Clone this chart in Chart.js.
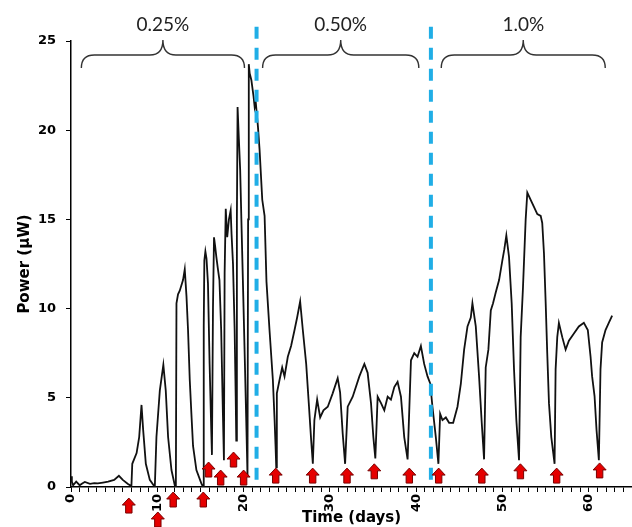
<!DOCTYPE html>
<html>
<head>
<meta charset="utf-8">
<script src="https://cdn.jsdelivr.net/npm/chart.js@4"></script>
<style>
    html, body { margin: 0; padding: 0; background: #fff; }
    #wrap { width: 632px; height: 527px; }
</style>
</head>
<body>
<div id="wrap"><canvas id="chart"></canvas></div>
<script>
// power trace (time in days, power in uW)
const days = [
    0.0, 0.1, 0.25, 0.6, 1.0, 1.3, 1.6, 2.2, 2.7, 3.1, 3.7, 4.3, 5.0, 5.55, 6.0, 6.6, 7.0,
    7.1, 7.6, 7.9, 8.17, 8.36, 8.67, 9.13, 9.71,
    9.9, 10.29, 10.7, 10.98, 11.25, 11.64, 12.02, 12.15,
    12.22, 12.4, 12.6, 12.98, 13.18, 13.38, 13.56, 13.76, 13.95, 14.14, 14.53, 15.1, 15.3,
    15.38, 15.45, 15.57, 15.7, 15.87, 16.06, 16.25, 16.33,
    16.45, 16.57, 16.7, 16.84, 17.0, 17.2, 17.4, 17.6, 17.72,
    17.8, 17.93, 18.1, 18.3, 18.5, 18.6, 18.77, 18.96, 19.08, 19.15,
    19.22, 19.3, 19.45, 19.6, 19.77, 19.96, 20.15, 20.33, 20.45,
    20.52, 20.6, 20.7, 20.9, 21.15, 21.28, 21.4, 21.66, 21.85, 22.16, 22.43, 22.65,
    23.0, 23.39, 23.59, 23.7, 23.78,
    23.85, 24.16, 24.47, 24.74, 25.12, 25.5, 25.9, 26.2, 26.55, 26.86, 27.25, 27.55, 27.83, 28.02,
    28.2, 28.52, 28.87, 29.25, 29.75, 30.32, 30.9, 31.18, 31.48, 31.76,
    32.06, 32.64, 33.41, 33.99, 34.37, 34.76, 35.03, 35.26,
    35.53, 35.92, 36.3, 36.69, 37.07, 37.46, 37.84, 38.23, 38.61, 39.0,
    39.39, 39.77, 40.15, 40.54, 40.92, 41.31, 41.62, 41.88, 42.27, 42.57,
    42.77, 43.04, 43.43, 43.81, 44.28, 44.78, 45.17, 45.55, 45.94, 46.32, 46.51, 46.9, 47.28, 47.59, 47.86,
    48.05, 48.36, 48.64, 48.9, 49.21, 49.6, 49.98, 50.2, 50.44, 50.75, 51.06, 51.33, 51.6, 51.91,
    52.1, 52.37, 52.68, 52.87, 53.26, 53.64, 54.03, 54.42, 54.6, 54.8, 55.0, 55.18, 55.38, 55.65, 56.03,
    56.15, 56.34, 56.53, 56.92, 57.31, 57.69, 58.27, 58.84, 59.42, 59.88, 60.2, 60.38, 60.66, 60.89, 61.16,
    61.35, 61.54, 61.93, 62.31, 62.7
];
const power = [
    0.6, 0.3, 0.1, 0.3, 0.1, 0.2, 0.28, 0.18, 0.22, 0.2, 0.25, 0.3, 0.4, 0.63, 0.4, 0.17, 0.05,
    1.3, 1.9, 2.8, 4.6, 3.2, 1.3, 0.4, 0.0,
    2.8, 5.4, 6.85, 5.4, 2.8, 0.95, 0.1, 0.0,
    10.3, 10.8, 11.0, 11.6, 12.2, 10.7, 8.8, 6.0, 4.1, 2.3, 0.95, 0.2, 0.0,
    9.0, 12.7, 13.2, 12.8, 11.4, 6.9, 3.2, 1.8,
    10.0, 14.0, 13.5, 12.9, 12.3, 11.6, 8.8, 4.1, 1.5,
    12.0, 15.6, 14.0, 15.0, 15.5, 14.2, 12.5, 8.8, 5.1, 2.6,
    15.0, 21.3, 19.5, 17.8, 14.4, 10.7, 6.9, 3.2, 0.6,
    15.0, 23.7, 23.2, 22.8, 21.9, 21.3, 21.6, 20.2, 18.9, 16.1, 15.2, 11.5,
    8.8, 6.0, 3.75, 2.3, 1.1,
    5.25, 6.0, 6.7, 6.2, 7.3, 7.9, 8.8, 9.5, 10.4, 8.8, 6.9, 4.7, 2.6, 1.3,
    3.75, 4.9, 3.9, 4.3, 4.5, 5.25, 6.1, 5.3, 3.0, 1.3,
    4.5, 5.06, 6.2, 6.9, 6.4, 4.7, 2.8, 1.6,
    5.06, 4.7, 4.3, 5.06, 4.9, 5.6, 5.9, 5.06, 2.8, 1.55,
    7.1, 7.5, 7.3, 7.9, 6.9, 6.2, 5.8, 4.5, 2.8, 1.3,
    4.1, 3.75, 3.9, 3.6, 3.6, 4.5, 5.8, 7.7, 9.0, 9.5, 10.3, 9.0, 6.2, 3.6, 1.55,
    6.7, 7.7, 9.9, 10.3, 10.9, 11.6, 12.7, 13.3, 14.1, 12.9, 10.3, 6.6, 3.75, 1.5,
    8.4, 11.2, 15.0, 16.5, 16.1, 15.7, 15.3, 15.2, 14.8, 13.1, 10.3, 7.5, 4.7, 2.8, 1.3,
    6.6, 8.4, 9.2, 8.4, 7.7, 8.2, 8.6, 9.0, 9.2, 8.8, 7.3, 6.2, 5.1, 3.2, 1.5,
    6.6, 8.1, 8.8, 9.2, 9.6
];

// red arrows: day and the power level of the arrow tip
const arrowDays = [6.7, 10.06, 11.84, 15.33, 15.94, 17.34, 18.83, 20.0, 23.72, 28.0, 31.98, 35.14, 39.2, 42.6, 47.6, 52.07, 56.27, 61.25];
const arrowTips = [-0.62, -1.4, -0.28, -0.28, 1.4, 0.95, 1.96, 0.95, 1.06, 1.06, 1.06, 1.3, 1.06, 1.06, 1.06, 1.3, 1.06, 1.35];

// concentration changes
const phaseLines = [21.5, 41.7];
const braceStart = [1.2, 22.2, 42.9];
const braceEnd = [20.1, 40.3, 61.9];
const braceLabels = ["0.25%", "0.50%", "1.0%"];

Chart.defaults.font.family = "'DejaVu Sans', sans-serif";
Chart.defaults.color = "#000";

const drawArrow = (ctx, cx, tipY) => {
    ctx.beginPath();
    ctx.moveTo(cx, tipY);
    ctx.lineTo(cx + 6.5, tipY + 7);
    ctx.lineTo(cx + 3.2, tipY + 7);
    ctx.lineTo(cx + 3.2, tipY + 15);
    ctx.lineTo(cx - 3.2, tipY + 15);
    ctx.lineTo(cx - 3.2, tipY + 7);
    ctx.lineTo(cx - 6.5, tipY + 7);
    ctx.closePath();
    ctx.fill();
    ctx.stroke();
};

const overlays = {
    id: "overlays",
    afterDraw(chart) {
        const { ctx, chartArea } = chart;
        const x = chart.scales.x;
        const y = chart.scales.y;
        ctx.save();

        // dashed phase boundaries
        ctx.strokeStyle = "#20aee6";
        ctx.lineWidth = 4;
        ctx.setLineDash([12, 9]);
        phaseLines.forEach((d) => {
            const px = x.getPixelForValue(d);
            ctx.beginPath();
            ctx.moveTo(px, y.getPixelForValue(25.8));
            ctx.lineTo(px, y.getPixelForValue(0.3));
            ctx.stroke();
        });
        ctx.setLineDash([]);

        // braces and labels
        const yB = chartArea.top + 27;
        const yH = chartArea.top + 14;
        const yT = chartArea.top - 1;
        const r = 13;
        ctx.strokeStyle = "#333";
        ctx.lineWidth = 1.4;
        ctx.fillStyle = "#222";
        ctx.font = "19px Lato, 'Open Sans', sans-serif";
        ctx.textAlign = "center";
        ctx.textBaseline = "middle";
        braceStart.forEach((d, i) => {
            const x1 = x.getPixelForValue(d);
            const x2 = x.getPixelForValue(braceEnd[i]);
            const cx = (x1 + x2) / 2;
            ctx.beginPath();
            ctx.moveTo(x1, yB);
            ctx.quadraticCurveTo(x1, yH, x1 + r, yH);
            ctx.lineTo(cx - r, yH);
            ctx.quadraticCurveTo(cx, yH, cx, yT);
            ctx.quadraticCurveTo(cx, yH, cx + r, yH);
            ctx.lineTo(x2 - r, yH);
            ctx.quadraticCurveTo(x2, yH, x2, yB);
            ctx.stroke();
            ctx.fillText(braceLabels[i], cx, chartArea.top - 16);
        });

        // arrows
        ctx.fillStyle = "#e50000";
        ctx.strokeStyle = "#7a0000";
        ctx.lineWidth = 1;
        arrowDays.forEach((d, i) => {
            drawArrow(ctx, x.getPixelForValue(d), y.getPixelForValue(arrowTips[i]));
        });
        ctx.restore();
    },
};

new Chart(document.getElementById("chart"), {
    type: "line",
    data: {
        datasets: [
            {
                data: days.map((d, i) => ({ x: d, y: power[i] })),
                borderColor: "#111",
                borderWidth: 1.8,
                pointRadius: 0,
                tension: 0,
            },
        ],
    },
    options: {
        responsive: true,
        maintainAspectRatio: false,
        animation: false,
        layout: {
            padding: { top: 41, right: 0, bottom: 0, left: 0 },
        },
        plugins: {
            legend: { display: false },
            tooltip: { enabled: false },
        },
        scales: {
            x: {
                type: "linear",
                min: 0,
                max: 65,
                ticks: {
                    stepSize: 1,
                    autoSkip: false,
                    minRotation: 90,
                    maxRotation: 90,
                    padding: 2,
                    color: "#000",
                    font: { size: 13, weight: "bold" },
                    callback: (v) => (v % 10 === 0 ? v : ""),
                },
                grid: {
                    drawOnChartArea: false,
                    tickLength: 5,
                    color: "#000",
                },
                border: { color: "#000", width: 1.5 },
                title: {
                    display: true,
                    text: "Time (days)",
                    color: "#000",
                    font: { size: 15, weight: "bold" },
                    padding: { top: 0, bottom: 0 },
                },
                afterFit: (s) => {
                    s.height = 40;
                    s.paddingLeft = 0;
                    s.paddingRight = 0;
                },
            },
            y: {
                min: 0,
                max: 25,
                ticks: {
                    stepSize: 5,
                    padding: 10,
                    color: "#000",
                    font: { size: 13, weight: "bold" },
                },
                grid: {
                    drawOnChartArea: false,
                    tickLength: 5,
                    color: "#000",
                },
                border: { color: "#000", width: 1.5 },
                title: {
                    display: true,
                    text: "Power (μW)",
                    color: "#000",
                    font: { size: 15, weight: "bold" },
                    padding: { top: 16, bottom: 0 },
                },
                afterFit: (s) => {
                    s.width = 71;
                },
            },
        },
    },
    plugins: [overlays],
});
</script>
</body>
</html>
